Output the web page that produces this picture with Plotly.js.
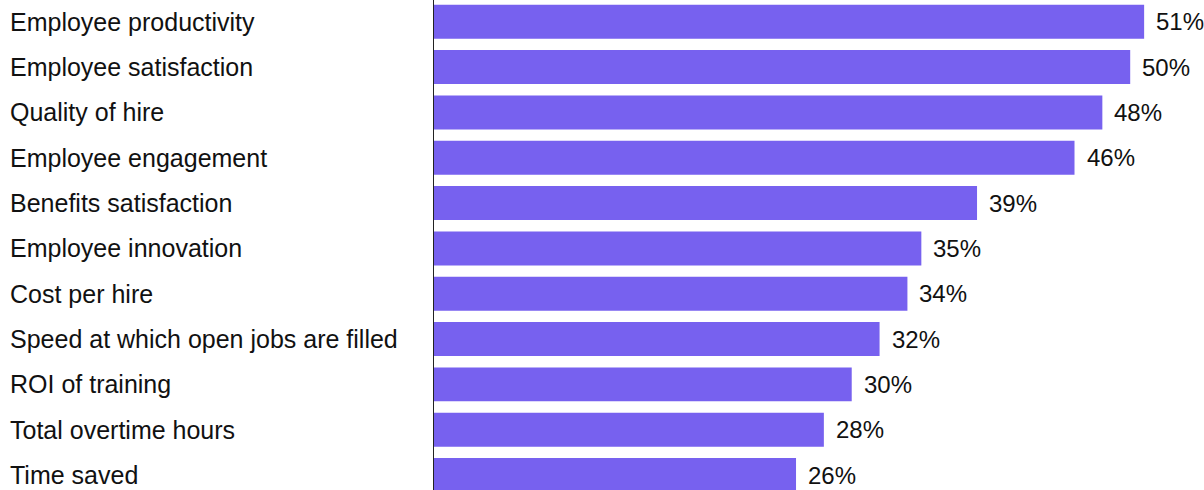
<!DOCTYPE html>
<html>
<head>
<meta charset="utf-8">
<script src="https://cdn.plot.ly/plotly-3.0.1.min.js"></script>
<style>html,body{margin:0;padding:0;background:#fff;}#chart{width:1204px;height:490px;}</style>
</head>
<body>
<div id="chart"></div>
<script>
const categories = [
  "Employee productivity",
  "Employee satisfaction",
  "Quality of hire",
  "Employee engagement",
  "Benefits satisfaction",
  "Employee innovation",
  "Cost per hire",
  "Speed at which open jobs are filled",
  "ROI of training",
  "Total overtime hours",
  "Time saved"
];
const values = [51, 50, 48, 46, 39, 35, 34, 32, 30, 28, 26];
const valueLabels = values.map(v => v + "%");

const FONT = "Liberation Sans, Arial, sans-serif";
const idx = categories.map((c, i) => i);

const trace = {
  type: "bar",
  orientation: "h",
  x: values,
  y: idx,
  width: 0.75,
  marker: {color: "#7761ef", line: {width: 0}},
  hoverinfo: "skip"
};

const annotations = [];
categories.forEach((c, i) => {
  annotations.push({
    xref: "paper", yref: "y", x: 0, y: i,
    xanchor: "left", yanchor: "middle", xshift: -426,
    text: c, showarrow: false,
    font: {family: FONT, size: 25, color: "#111"}
  });
  annotations.push({
    xref: "x", yref: "y", x: values[i], y: i,
    xanchor: "left", yanchor: "middle", xshift: 10,
    text: valueLabels[i], showarrow: false,
    font: {family: FONT, size: 24, color: "#111"}
  });
});

const layout = {
  width: 1204, height: 490,
  margin: {l: 434, r: 0, t: 0, b: 0, pad: 0},
  paper_bgcolor: "#fff", plot_bgcolor: "#fff",
  showlegend: false,
  xaxis: {range: [0, 55.3], showgrid: false, zeroline: false, showline: false, showticklabels: false, ticks: "", fixedrange: true},
  yaxis: {range: [10.33, -0.479], showgrid: false, zeroline: false, showline: true, linecolor: "#222", linewidth: 1, showticklabels: false, ticks: "", fixedrange: true},
  annotations: annotations,
  font: {family: FONT}
};

Plotly.newPlot("chart", [trace], layout, {displayModeBar: false, staticPlot: true});
</script>
</body>
</html>
